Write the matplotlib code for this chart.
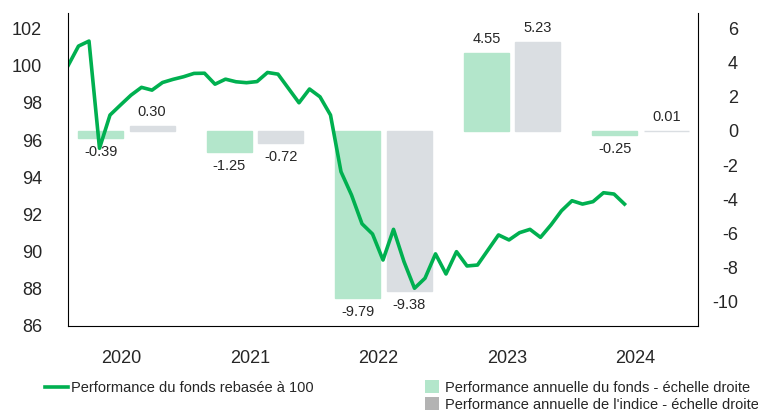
"""Fund performance rebased to 100 with annual fund / index bars."""
import numpy as np
import matplotlib.pyplot as plt
from matplotlib.lines import Line2D
from matplotlib.patches import Patch

plt.rcParams['font.family'] = ['Liberation Sans', 'DejaVu Sans']
plt.rcParams['axes.unicode_minus'] = False

# annual performance (right scale)
years = ['2020', '2021', '2022', '2023', '2024']
fund_annual = [-0.39, -1.25, -9.79, 4.55, -0.25]
index_annual = [0.30, -0.72, -9.38, 5.23, 0.01]

# monthly fund performance rebased to 100 (left scale), Jan 2020 -> Jun 2024
fund_rebased = [
    100.00, 101.06, 101.33, 95.56, 97.35, 97.89, 98.42, 98.84, 98.69, 99.10,
    99.27, 99.41, 99.59, 99.60, 99.01, 99.28, 99.14, 99.09, 99.15, 99.64,
    99.55, 98.78, 98.01, 98.75, 98.33, 97.35, 94.30, 93.05, 91.50, 90.95,
    89.55, 91.20, 89.46, 88.03, 88.57, 89.88, 88.80, 90.00, 89.23, 89.28,
    90.09, 90.90, 90.63, 91.02, 91.20, 90.77, 91.44, 92.20, 92.74, 92.56,
    92.69, 93.17, 93.10, 92.56,
]

labels_legend = ['Performance du fonds rebasée à 100',
                 'Performance annuelle du fonds - échelle droite',
                 "Performance annuelle de l'indice - échelle droite"]

GREEN = '#00b050'
FUND_BAR = '#b3e6cb'
INDEX_BAR = '#dadee2'
INDEX_LEGEND = '#b3b3b3'
TEXT = '#262626'

fig = plt.figure(figsize=(7.58, 4.11), dpi=100)
rect = [68 / 758, 1 - 326 / 411, 630 / 758, 313 / 411]

# bars on the bottom axes (right scale)
ax_bar = fig.add_axes(rect)
x = np.arange(len(years))
width, off = 0.35, 0.2
b_fund = ax_bar.bar(x - off, fund_annual, width, color=FUND_BAR,
                    edgecolor=FUND_BAR, lw=1)
b_idx = ax_bar.bar(x + off, index_annual, width, color=INDEX_BAR,
                   edgecolor=INDEX_BAR, lw=1)
for bars in (b_fund, b_idx):
    ax_bar.bar_label(bars, fmt='%.2f', padding=5, fontsize=10.5, color=TEXT)
ax_bar.set_xlim(-0.455, 4.447)
ax_bar.set_ylim(-11.42, 6.91)
ax_bar.yaxis.tick_right()
ax_bar.set_yticks(range(-10, 7, 2))
ax_bar.tick_params(axis='y', length=0, pad=28.8, labelsize=13, labelcolor=TEXT)
for lbl in ax_bar.get_yticklabels():
    lbl.set_ha('right')
ax_bar.set_xticks(x - 0.04, years)
ax_bar.tick_params(axis='x', length=0, pad=17, labelsize=13, labelcolor=TEXT)
for side in ['top', 'left', 'bottom']:
    ax_bar.spines[side].set_visible(False)
ax_bar.spines['right'].set_color('black')

# line on top (left scale)
ax_line = fig.add_axes(rect)
ax_line.patch.set_visible(False)
months = np.arange(len(fund_rebased))
ax_line.plot(months, fund_rebased, color=GREEN, lw=2.6)
ax_line.set_xlim(0, 60)
ax_line.set_ylim(86, 102.84)
ax_line.set_yticks(range(86, 103, 2))
ax_line.set_xticks([])
ax_line.tick_params(axis='y', length=0, pad=18.7, labelsize=13, labelcolor=TEXT)
for side in ['top', 'right']:
    ax_line.spines[side].set_visible(False)

# legends below the plot
fig.legend(handles=[Line2D([], [], color=GREEN, lw=2.6)], labels=labels_legend[:1],
           loc='center left', bbox_to_anchor=(45 / 758, 1 - 388 / 411),
           frameon=False, fontsize=10.5, handlelength=1.6, handletextpad=0.2,
           borderpad=0, borderaxespad=0, labelcolor=TEXT)
fig.legend(handles=[Patch(facecolor=FUND_BAR), Patch(facecolor=INDEX_LEGEND)],
           labels=labels_legend[1:],
           loc='center left', bbox_to_anchor=(425 / 758, 1 - 396 / 411),
           frameon=False, fontsize=10.5, handlelength=0.95, handleheight=0.9,
           handletextpad=0.45, labelspacing=0.2,
           borderpad=0, borderaxespad=0, labelcolor=TEXT)

fig.savefig('out.png', dpi=100)
